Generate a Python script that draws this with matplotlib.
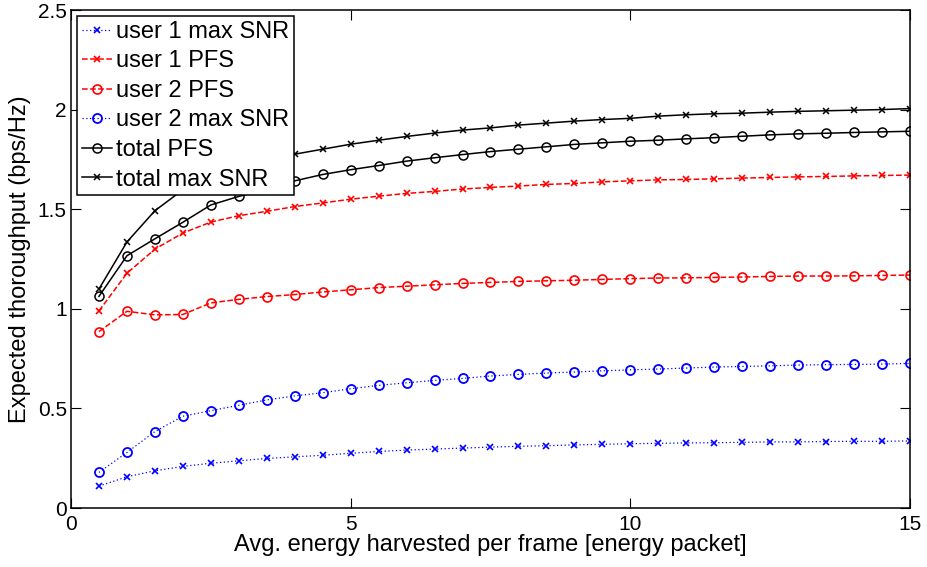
import numpy as np
import matplotlib
matplotlib.use("Agg")
import matplotlib.pyplot as plt
import matplotlib.ticker as mticker

plt.rcParams["font.family"] = ["Liberation Sans", "DejaVu Sans"]

# Average harvested energy per frame (energy packets)
energy = np.arange(0.5, 15.01, 0.5)

user1_max_snr = [0.110, 0.157, 0.187, 0.209, 0.225, 0.237, 0.249, 0.257, 0.265, 0.275,
                 0.284, 0.291, 0.296, 0.301, 0.306, 0.310, 0.313, 0.317, 0.320, 0.323,
                 0.325, 0.327, 0.328, 0.330, 0.332, 0.332, 0.334, 0.335, 0.335, 0.337]
user1_pfs = [0.990, 1.179, 1.300, 1.381, 1.436, 1.468, 1.490, 1.514, 1.532, 1.551,
             1.566, 1.580, 1.590, 1.602, 1.610, 1.617, 1.625, 1.630, 1.638, 1.643,
             1.648, 1.650, 1.653, 1.657, 1.660, 1.663, 1.665, 1.668, 1.670, 1.672]
user2_pfs = [0.886, 0.988, 0.970, 0.972, 1.030, 1.048, 1.062, 1.072, 1.085, 1.096,
             1.107, 1.114, 1.121, 1.128, 1.133, 1.138, 1.141, 1.144, 1.148, 1.152,
             1.155, 1.156, 1.158, 1.160, 1.163, 1.165, 1.165, 1.166, 1.168, 1.170]
user2_max_snr = [0.179, 0.279, 0.384, 0.461, 0.489, 0.516, 0.543, 0.563, 0.579, 0.599,
                 0.616, 0.629, 0.641, 0.651, 0.663, 0.671, 0.678, 0.683, 0.689, 0.694,
                 0.698, 0.703, 0.708, 0.711, 0.714, 0.718, 0.720, 0.721, 0.723, 0.726]
total_pfs = [1.063, 1.267, 1.352, 1.435, 1.522, 1.565, 1.600, 1.643, 1.675, 1.699,
             1.720, 1.742, 1.759, 1.775, 1.790, 1.802, 1.814, 1.826, 1.834, 1.842,
             1.847, 1.854, 1.860, 1.867, 1.874, 1.879, 1.882, 1.886, 1.889, 1.892]
total_max_snr = [1.100, 1.336, 1.493, 1.598, 1.670, 1.715, 1.750, 1.777, 1.802, 1.827,
                 1.847, 1.866, 1.883, 1.898, 1.909, 1.923, 1.933, 1.943, 1.951, 1.957,
                 1.968, 1.975, 1.980, 1.983, 1.988, 1.992, 1.995, 1.998, 2.001, 2.006]

fig = plt.figure(figsize=(9.27, 5.67), dpi=100)
ax = fig.add_axes([0.0766, 0.104, 0.905, 0.878])

dot = (0, (1, 2))
ax.plot(energy, user1_max_snr, color="blue", linestyle=dot, linewidth=0.9,
        marker="x", markersize=5, markeredgewidth=1.2, label="user 1 max SNR")
ax.plot(energy, user1_pfs, color="red", linestyle="--", linewidth=1.1,
        marker="x", markersize=5, markeredgewidth=1.2, label="user 1 PFS")
ax.plot(energy, user2_pfs, color="red", linestyle="--", linewidth=1.1,
        marker="o", markersize=6.5, markeredgewidth=1.2, markerfacecolor="none",
        label="user 2 PFS")
ax.plot(energy, user2_max_snr, color="blue", linestyle=dot, linewidth=0.9,
        marker="o", markersize=6.5, markeredgewidth=1.3, markerfacecolor="none",
        label="user 2 max SNR")
ax.plot(energy, total_pfs, color="black", linestyle="-", linewidth=1.1,
        marker="o", markersize=6.5, markeredgewidth=1.1, markerfacecolor="none",
        label="total PFS")
ax.plot(energy, total_max_snr, color="black", linestyle="-", linewidth=1.1,
        marker="x", markersize=5, markeredgewidth=1.1, label="total max SNR")

ax.set_xlim(0, 15)
ax.set_ylim(0, 2.5)
ax.xaxis.set_major_locator(mticker.MultipleLocator(5))
ax.yaxis.set_major_locator(mticker.MultipleLocator(0.5))
ax.yaxis.set_major_formatter(mticker.FormatStrFormatter("%g"))
ax.xaxis.set_major_formatter(mticker.FormatStrFormatter("%g"))
ax.tick_params(axis="both", direction="in", top=True, right=True,
               length=7, width=0.8, labelsize=15)
ax.tick_params(axis="y", pad=3)
ax.tick_params(axis="x", pad=5)

for spine in ax.spines.values():
    spine.set_linewidth(1.1)

ax.set_xlabel("Avg. energy harvested per frame [energy packet]", fontsize=17, labelpad=0)
ax.set_ylabel("Expected thoroughput (bps/Hz)", fontsize=17, labelpad=5)

leg = ax.legend(loc="upper left", fontsize=17, frameon=True, fancybox=False,
                edgecolor="black", framealpha=1, borderpad=0.2, labelspacing=0.32,
                handlelength=1.3, handletextpad=0.15, borderaxespad=0.25,
                markerscale=1.0)
leg.get_frame().set_linewidth(1.1)

fig.savefig("out.png", dpi=100)
